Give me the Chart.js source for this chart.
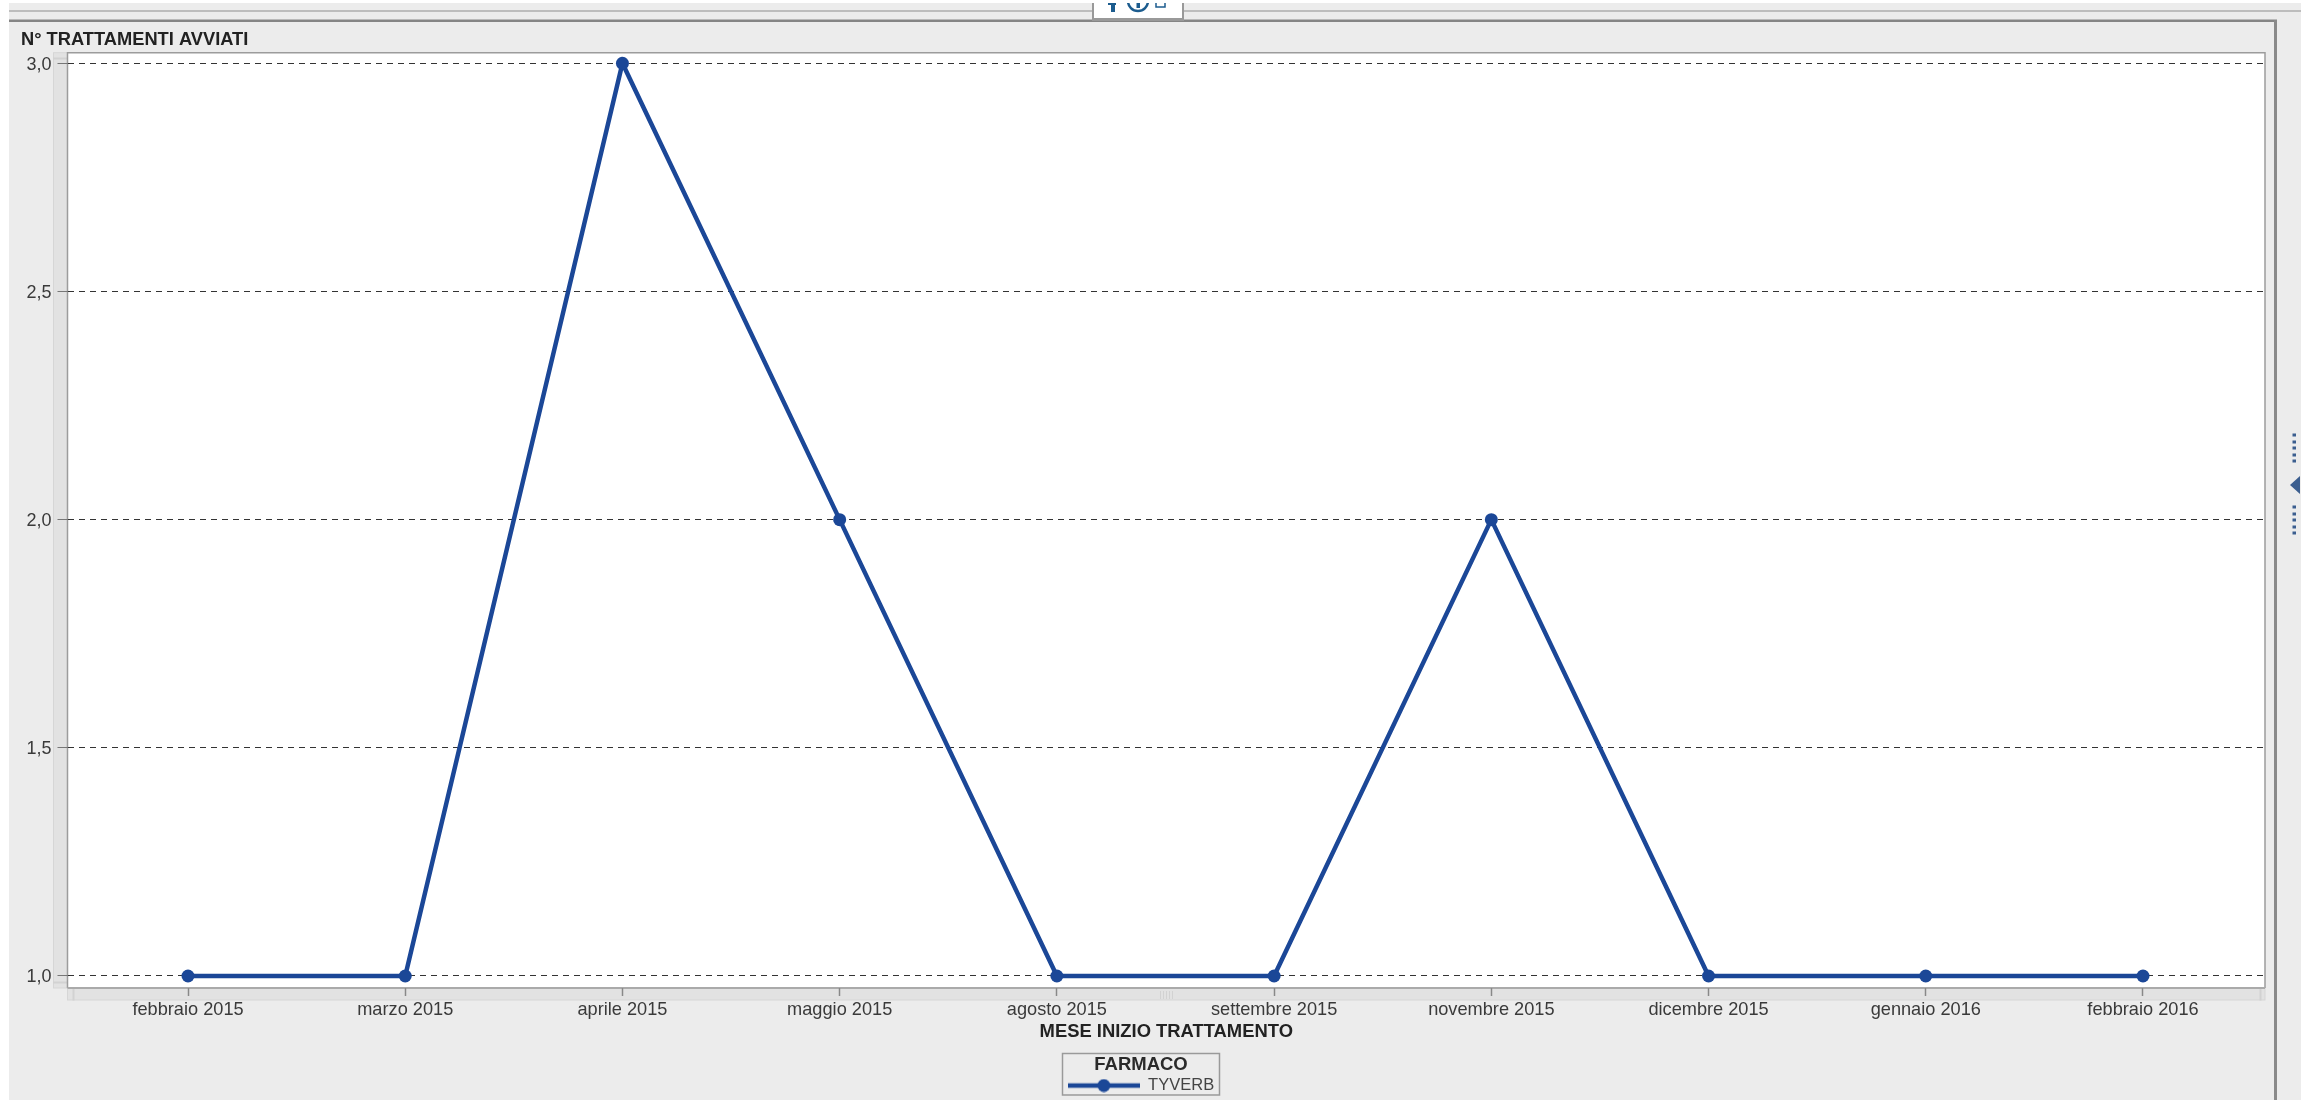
<!DOCTYPE html>
<html>
<head>
<meta charset="utf-8">
<style>html,body{margin:0;padding:0;background:#fff}canvas{display:block}</style>
<script src="https://cdn.jsdelivr.net/npm/chart.js@4"></script>
</head>
<body>
<canvas id="c" width="2308" height="1101"></canvas>
<script>
const categories = ['febbraio 2015','marzo 2015','aprile 2015','maggio 2015','agosto 2015','settembre 2015','novembre 2015','dicembre 2015','gennaio 2016','febbraio 2016'];
const tyverbValues = [1,1,3,2,1,1,2,1,1,1];
const yTickValues = [1,1.5,2,2.5,3];
const seriesName = 'TYVERB';
const legendTitle = 'FARMACO';
const yAxisTitle = 'N° TRATTAMENTI AVVIATI';
const xAxisTitle = 'MESE INIZIO TRATTAMENTO';

const FONT = '"Liberation Sans", Arial, sans-serif';
const BLUE = '#1b4797';

// legend key: line with a dot on it
const key = document.createElement('canvas');
key.width = 72; key.height = 14;
(function(){
  const k = key.getContext('2d');
  k.strokeStyle = BLUE; k.lineWidth = 4.5;
  k.beginPath(); k.moveTo(0,7); k.lineTo(72,7); k.stroke();
  k.fillStyle = BLUE; k.beginPath(); k.arc(36,7,6.5,0,Math.PI*2); k.fill();
})();

const chrome = {
  id:'chrome',
  beforeLayout(chart){
    const lg = chart.legend;
    if (lg && !lg._patched){
      const f = lg.fit;
      lg.fit = function(){ f.call(this); this.height = 0; };
      lg._patched = true;
    }
  },
  afterLayout(chart){
    const lg = chart.legend;
    lg.left = 1062; lg.right = 1220; lg.top = 1053; lg.bottom = 1095;
    lg.width = 158; lg.height = 42;
  },
  beforeDraw(chart){
    const c = chart.ctx, a = chart.chartArea;
    c.save();
    // page panel
    c.fillStyle = '#fff'; c.fillRect(0,0,2308,1101);
    c.fillStyle = '#ececec'; c.fillRect(9,3,2292,1097);
    // top rules
    c.fillStyle = '#bdbdbd'; c.fillRect(9,10,2292,2);
    c.fillStyle = '#858585'; c.fillRect(9,19.5,2268,2.5);
    // right rule
    c.fillStyle = '#8a8a8a'; c.fillRect(2274,20,3,1080);
    // top button
    c.fillStyle = '#999'; c.fillRect(1092,3,92,18);
    c.fillStyle = '#fff'; c.fillRect(1094,3,88,15);
    // clipped toolbar icons
    c.save();
    c.beginPath(); c.rect(1094,3,88,15); c.clip();
    c.strokeStyle = '#1c5c8e'; c.fillStyle = '#1c5c8e';
    c.fillRect(1111,0,4,12); c.fillRect(1108,3,8,2);
    c.lineWidth = 2.5; c.beginPath(); c.arc(1138,1,10,0,Math.PI*2); c.stroke();
    c.fillRect(1136.5,0,3.5,8);
    c.lineWidth = 1.5; c.strokeRect(1156,-4,9,11);
    c.beginPath(); c.moveTo(1165,1); c.lineTo(1172,1); c.stroke();
    c.restore();
    // axis scrollbar strips
    c.fillStyle = '#e2e2e2'; c.strokeStyle = '#d6d6d6'; c.lineWidth = 1;
    c.fillRect(53,a.top,a.left-53,a.bottom-a.top); c.strokeRect(53.5,a.top,a.left-53,a.bottom-a.top);
    c.fillRect(a.left,a.bottom,a.right-a.left,12); c.strokeRect(a.left,a.bottom,a.right-a.left,12);
    c.strokeStyle = '#d2d2d2';
    c.strokeRect(73,a.bottom,1,12); c.strokeRect(2260,a.bottom,1,12);
    c.strokeRect(53.5,58,13,1); c.strokeRect(53.5,982,13,1);
    for (let x=1160;x<=1172;x+=3){ c.beginPath(); c.moveTo(x+.5,991); c.lineTo(x+.5,999); c.stroke(); }
    // plot
    c.fillStyle = '#fff'; c.fillRect(a.left,a.top,a.right-a.left,a.bottom-a.top);
    c.strokeStyle = '#9c9c9c'; c.lineWidth = 1.5;
    c.beginPath(); c.moveTo(a.left,a.bottom); c.lineTo(a.left,a.top); c.lineTo(a.right,a.top); c.lineTo(a.right,a.bottom); c.stroke();
    c.strokeStyle = '#aaaaaa'; c.lineWidth = 2;
    c.beginPath(); c.moveTo(a.left,a.bottom); c.lineTo(a.right,a.bottom); c.stroke();
    // legend frame
    c.strokeStyle = '#9a9a9a'; c.lineWidth = 1.5; c.strokeRect(1062.5,1053.5,157,41.5);
    // side handle
    c.fillStyle = '#3b5e8f';
    [435,442,448,455,461,507,514,520,527,533].forEach(y=>c.fillRect(2292.5,y-1.5,3.5,3));
    c.beginPath(); c.moveTo(2290,485); c.lineTo(2300,476); c.lineTo(2300,494); c.closePath(); c.fill();
    c.restore();
  }
};

new Chart(document.getElementById('c').getContext('2d'), {
  type:'line',
  plugins:[chrome],
  data:{
    labels:categories,
    datasets:[{
      label:seriesName,
      data:tyverbValues.map((y,i)=>({x:i,y})),
      borderColor:BLUE, backgroundColor:BLUE,
      borderWidth:4.5, tension:0, fill:false,
      pointRadius:6.5, pointHoverRadius:6.5, pointBackgroundColor:BLUE, pointBorderWidth:0
    }]
  },
  options:{
    responsive:false, animation:false, devicePixelRatio:1,
    layout:{padding:{top:30,left:21,right:43,bottom:59}},
    plugins:{
      tooltip:{enabled:false},
      title:{
        display:true, text:yAxisTitle, align:'start', color:'#222',
        font:{family:FONT,size:18.3,weight:'bold',lineHeight:1.115},
        padding:{top:0,bottom:2.3}
      },
      legend:{
        display:true, position:'bottom', align:'center',
        title:{display:true,text:legendTitle,color:'#2a2a2a',
          font:{family:FONT,size:18.5,weight:'bold',lineHeight:1.15},padding:{top:3,bottom:0}},
        labels:{
          usePointStyle:true, pointStyle:key, pointStyleWidth:72, boxHeight:16,
          color:'#444', padding:0, font:{family:FONT,size:16.5}
        }
      }
    },
    scales:{
      x:{
        type:'linear', bounds:'data', min:-0.5548, max:9.5617,
        afterBuildTicks(s){ s.ticks = categories.map((_,i)=>({value:i})); },
        afterFit(s){ s.height = 54; },
        grid:{display:true,drawOnChartArea:false,drawTicks:true,tickLength:8,tickColor:'#888',tickWidth:1.5},
        border:{display:false},
        ticks:{autoSkip:false,maxRotation:0,minRotation:0,padding:3.5,color:'#3a3a3a',
          font:{family:FONT,size:18.2,lineHeight:1.15},
          callback:v=>categories[v]},
        title:{display:true,text:xAxisTitle,color:'#222',padding:0,
          font:{family:FONT,size:18.4,weight:'bold',lineHeight:1.08}}
      },
      y:{
        type:'linear', bounds:'data', min:0.9737, max:3.0232,
        afterBuildTicks(s){ s.ticks = yTickValues.map(v=>({value:v})); },
        afterFit(s){ s.width = 46.5; },
        grid:{color:'#333',lineWidth:1,drawTicks:true,tickLength:10,tickColor:'#777',tickWidth:1},
        border:{display:false,dash:[6,5]},
        ticks:{padding:6,labelOffset:1.5,color:'#3a3a3a',font:{family:FONT,size:18,lineHeight:1.2},
          callback:v=>v.toFixed(1).replace('.',',')}
      }
    }
  }
});
</script>
</body>
</html>
